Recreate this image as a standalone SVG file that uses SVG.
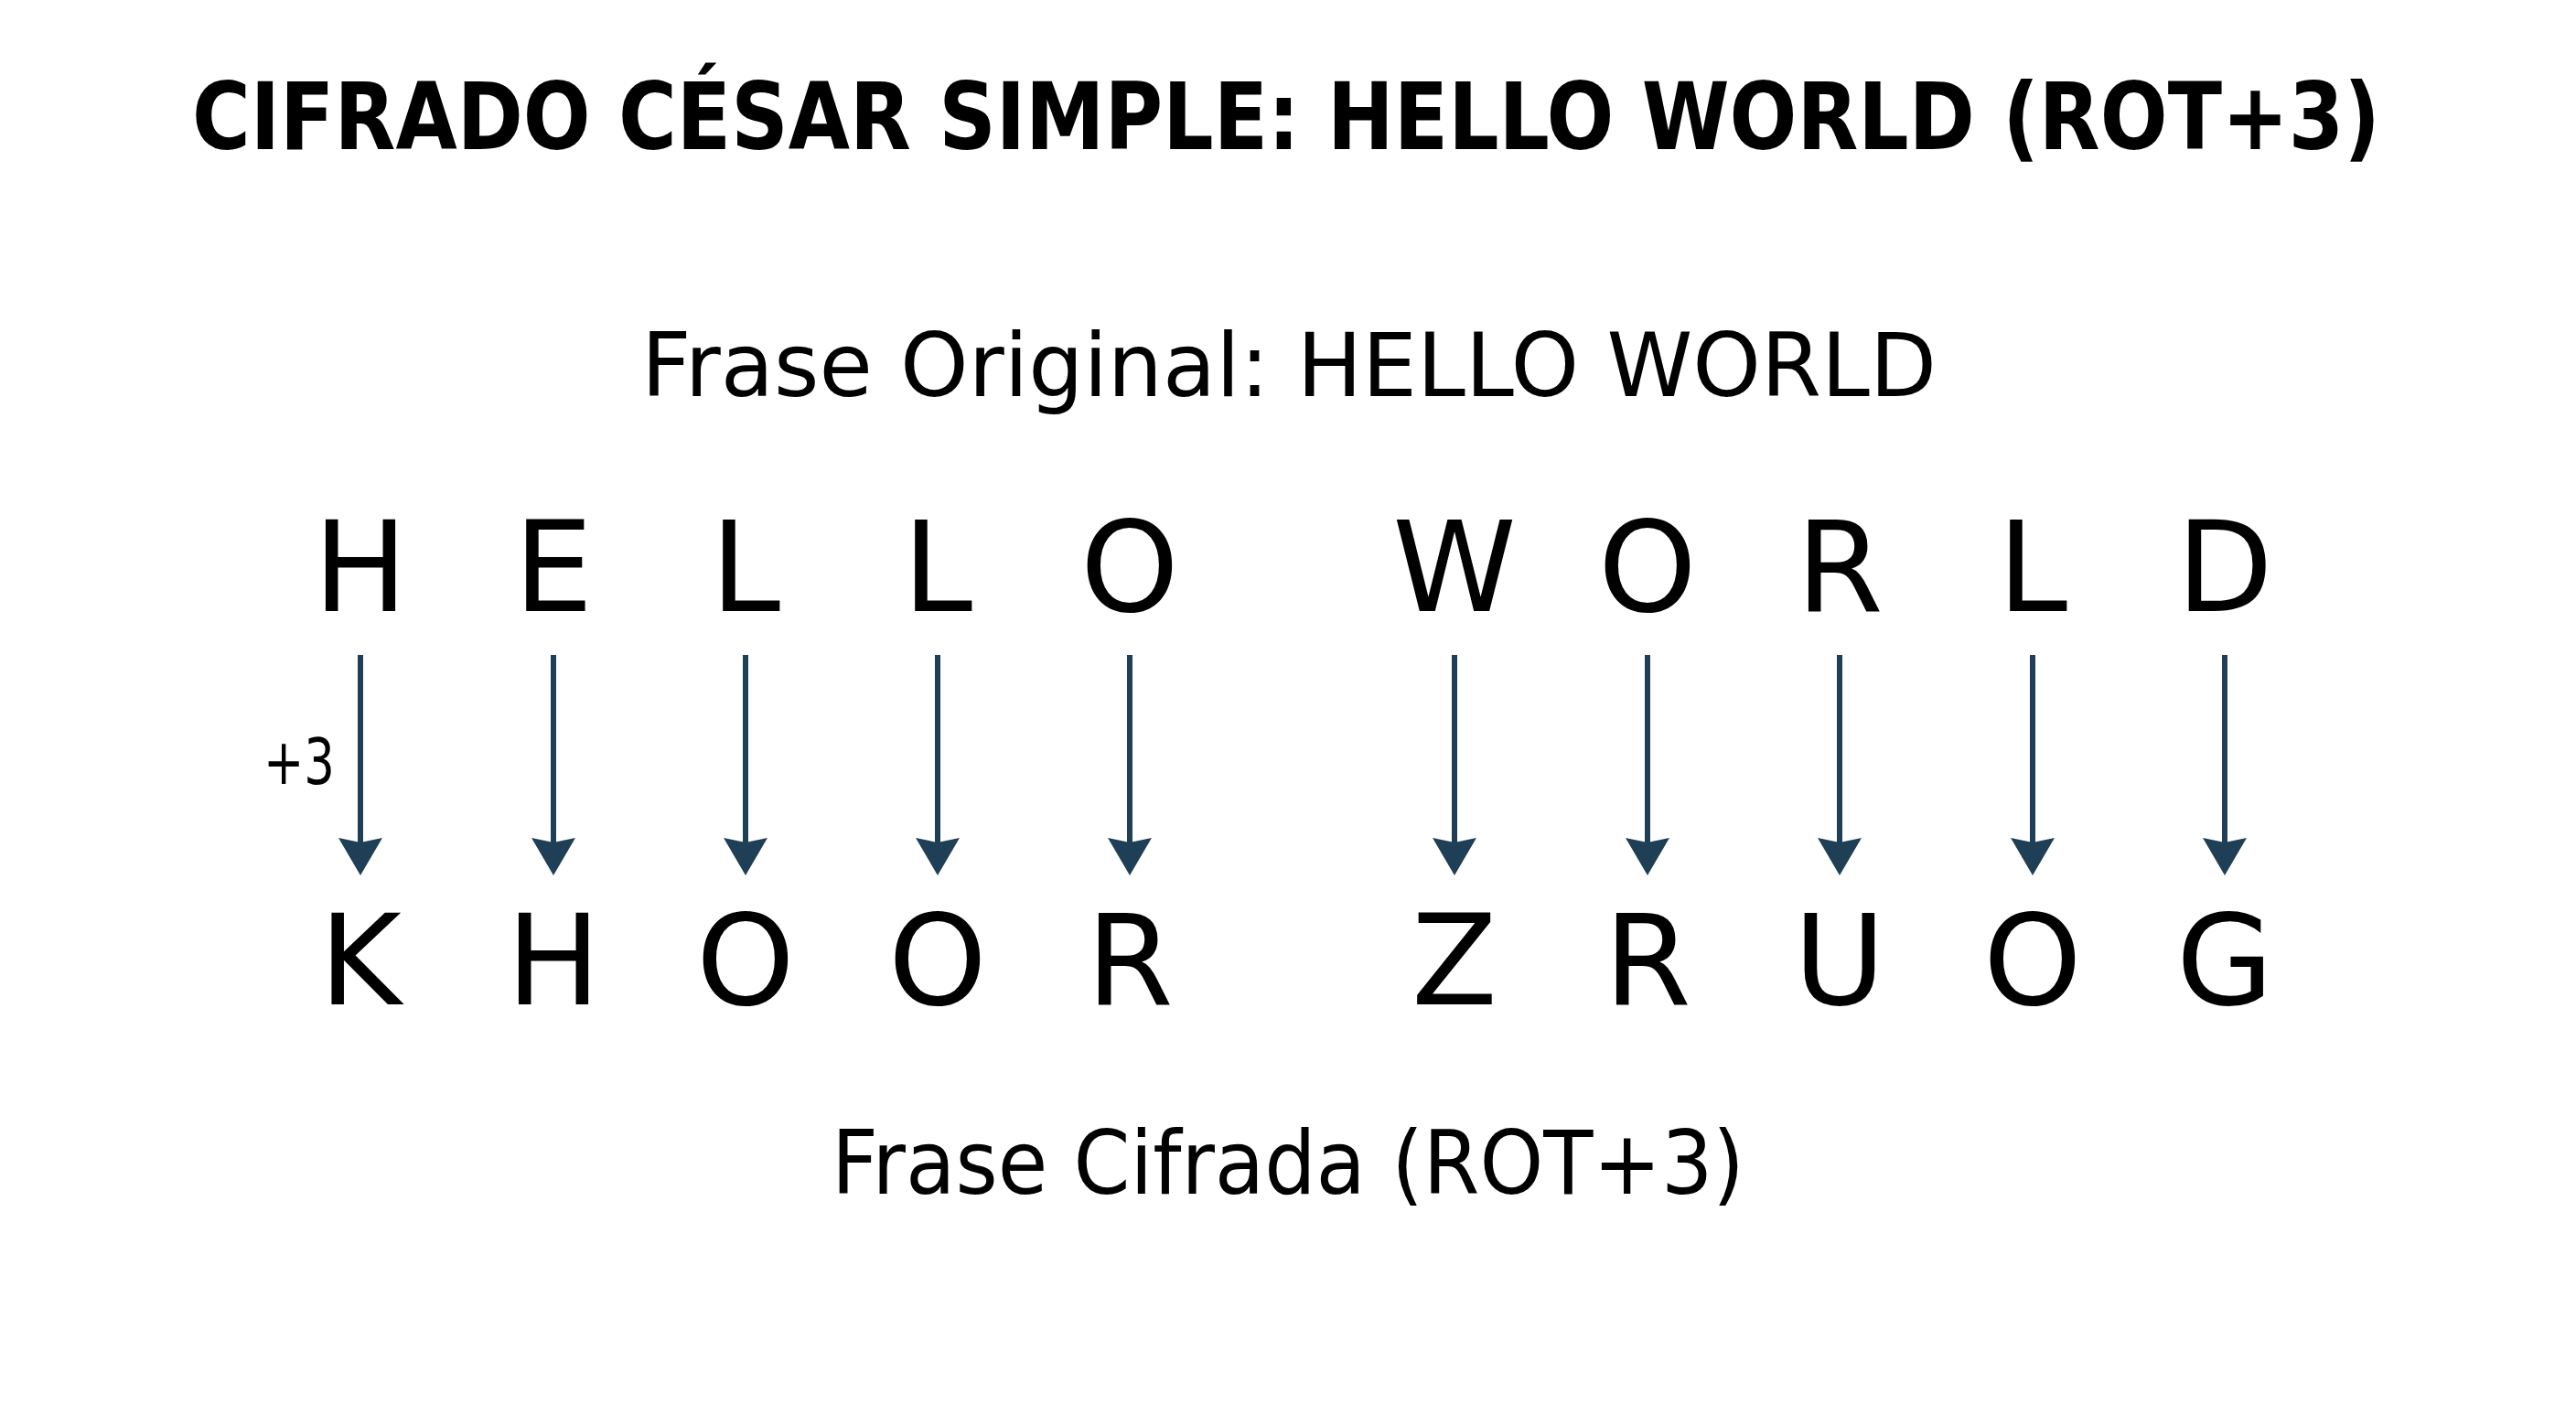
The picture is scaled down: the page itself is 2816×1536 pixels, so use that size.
<svg xmlns="http://www.w3.org/2000/svg" width="2816" height="1536" viewBox="0 0 2816 1536">
  <defs>
    <style>
      .title { font-family: "DejaVu Sans Condensed", "DejaVu Sans", "Liberation Sans", sans-serif; font-stretch: condensed; font-weight: bold; font-size: 101px; fill: #000; }
      .sub { font-family: "DejaVu Sans", "Liberation Sans", sans-serif; font-size: 97px; fill: #000; }
      .letter { font-family: "DejaVu Sans", "Liberation Sans", sans-serif; font-size: 137px; fill: #000; text-anchor: middle; }
      .shift { font-family: "DejaVu Sans", "Liberation Sans", sans-serif; font-size: 70px; fill: #000; }
      .arrow { stroke: #1F3F56; stroke-width: 6; fill: none; marker-end: url(#head); }
    </style>
    <marker id="head" viewBox="0 0 41 48" refX="5" refY="24" markerWidth="41" markerHeight="48" markerUnits="userSpaceOnUse" orient="auto">
      <path d="M0,0 L41,24 L0,48 L5,24 Z" fill="#1F3F56"/>
    </marker>
  </defs>
  <rect width="2816" height="1536" fill="#FFFFFF"/>

  <g id="title">
    <text class="title" x="1406" y="163" text-anchor="middle" textLength="2392" lengthAdjust="spacingAndGlyphs">CIFRADO CÉSAR SIMPLE: HELLO WORLD (ROT+3)</text>
  </g>
  <g id="original-label">
    <text class="sub" x="1409" y="433" text-anchor="middle" textLength="1416" lengthAdjust="spacingAndGlyphs">Frase Original: HELLO WORLD</text>
  </g>

  <g id="plain-H"><text class="letter" x="394" y="668">H</text></g>
  <g id="plain-E"><text class="letter" x="605" y="668">E</text></g>
  <g id="plain-L1"><text class="letter" x="815" y="668">L</text></g>
  <g id="plain-L2"><text class="letter" x="1025" y="668">L</text></g>
  <g id="plain-O"><text class="letter" x="1235" y="668">O</text></g>
  <g id="plain-W"><text class="letter" x="1590" y="668">W</text></g>
  <g id="plain-O2"><text class="letter" x="1801" y="668">O</text></g>
  <g id="plain-R"><text class="letter" x="2011" y="668">R</text></g>
  <g id="plain-L3"><text class="letter" x="2222" y="668">L</text></g>
  <g id="plain-D"><text class="letter" x="2432" y="668">D</text></g>

  <g id="connectors">
    <line class="arrow" x1="394" y1="716" x2="394" y2="921"/>
    <line class="arrow" x1="605" y1="716" x2="605" y2="921"/>
    <line class="arrow" x1="815" y1="716" x2="815" y2="921"/>
    <line class="arrow" x1="1025" y1="716" x2="1025" y2="921"/>
    <line class="arrow" x1="1235" y1="716" x2="1235" y2="921"/>
    <line class="arrow" x1="1590" y1="716" x2="1590" y2="921"/>
    <line class="arrow" x1="1801" y1="716" x2="1801" y2="921"/>
    <line class="arrow" x1="2011" y1="716" x2="2011" y2="921"/>
    <line class="arrow" x1="2222" y1="716" x2="2222" y2="921"/>
    <line class="arrow" x1="2432" y1="716" x2="2432" y2="921"/>
    <text class="shift" x="366" y="857" text-anchor="end" textLength="78" lengthAdjust="spacingAndGlyphs">+3</text>
  </g>

  <g id="cipher-K"><text class="letter" x="394" y="1098">K</text></g>
  <g id="cipher-H"><text class="letter" x="605" y="1098">H</text></g>
  <g id="cipher-O1"><text class="letter" x="815" y="1098">O</text></g>
  <g id="cipher-O2"><text class="letter" x="1025" y="1098">O</text></g>
  <g id="cipher-R"><text class="letter" x="1235" y="1098">R</text></g>
  <g id="cipher-Z"><text class="letter" x="1590" y="1098">Z</text></g>
  <g id="cipher-R2"><text class="letter" x="1801" y="1098">R</text></g>
  <g id="cipher-U"><text class="letter" x="2011" y="1098">U</text></g>
  <g id="cipher-O3"><text class="letter" x="2222" y="1098">O</text></g>
  <g id="cipher-G"><text class="letter" x="2432" y="1098">G</text></g>

  <g id="cipher-label">
    <text class="sub" x="1408" y="1305" text-anchor="middle" textLength="998" lengthAdjust="spacingAndGlyphs">Frase Cifrada (ROT+3)</text>
  </g>
</svg>
